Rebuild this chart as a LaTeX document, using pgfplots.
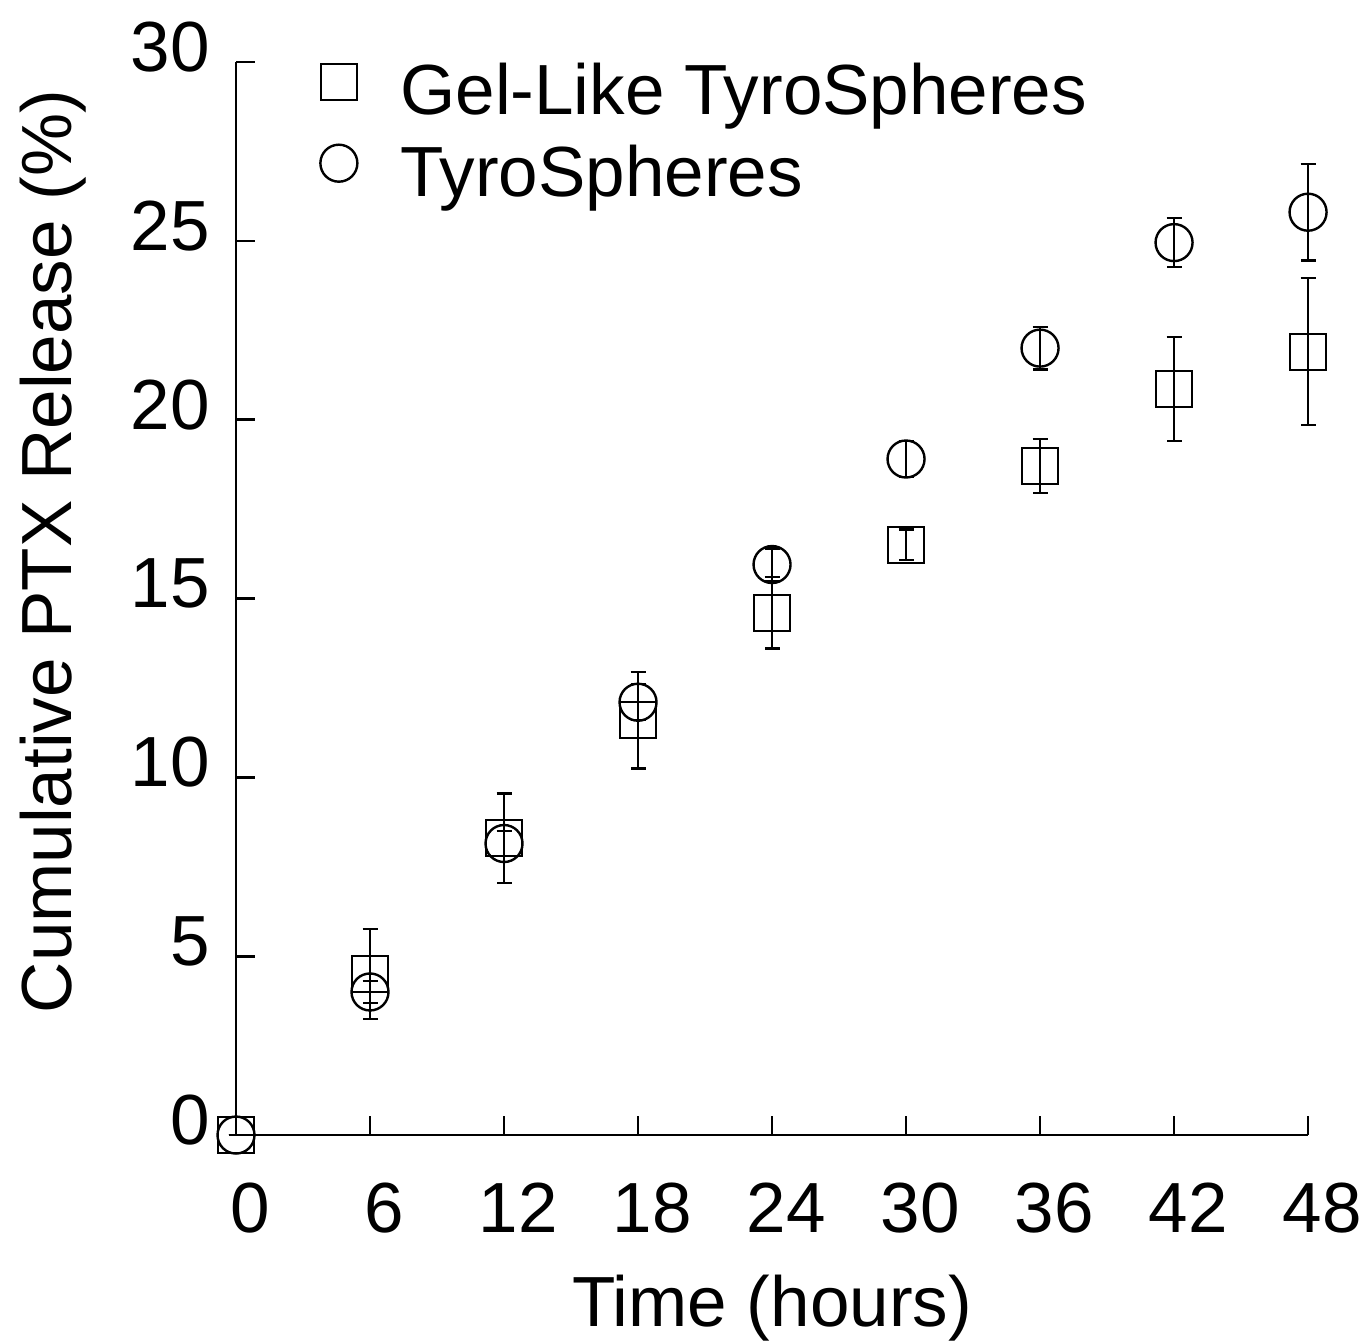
\documentclass[border=0pt]{standalone}
\usepackage{fontspec}
\setmainfont{Liberation Sans}
\usepackage{pgfplots}
\pgfplotsset{compat=1.18}
\begin{document}
\begin{tikzpicture}
\begin{axis}[
  scale only axis,
  width=536pt, height=536.5pt,
  xmin=0, xmax=48, ymin=0, ymax=30,
  clip=false,
  axis x line=bottom, axis y line=left,
  axis line style={-, line width=1.4pt},
  xtick={0,6,...,48}, ytick={0,5,...,30},
  tick align=inside,
  major tick length=9.5pt,
  tick style={line width=1.3pt, black},
  /pgf/number format/assume math mode=true,
  tick label style={font=\fontsize{35.5}{42}\selectfont},
  xticklabel style={xshift=7pt, yshift=-20.5pt},
  yticklabel style={xshift=-9.5pt, yshift=7.5pt},
  xlabel={Time (hours)},
  ylabel={Cumulative PTX Release (\%)},
  label style={font=\fontsize{35.5}{42}\selectfont},
  xlabel style={at={(0.5,0)}, anchor=north, yshift=-66.5pt},
  ylabel style={at={(0,0.5)}, anchor=south, xshift=23.5pt, yshift=71.5pt},
  legend style={at={(axis cs:3.76,30.08)}, anchor=north west, draw=none, fill=none,
    font=\fontsize{35.5}{42}\selectfont, inner sep=0pt, row sep=9.5pt,
    nodes={inner sep=2pt}},
  legend cell align=left,
  legend image code/.code={\draw[#1] plot coordinates {(9pt,4.5pt)}; \path (0pt,0pt) (37.5pt,0pt);},
  error bars/error bar style={line width=1.1pt, black},
  error bars/error mark options={rotate=90, mark size=3.75pt, line width=1.1pt, black},
]
\addplot[only marks, mark=square, mark size=9pt, mark options={line width=1.2pt, black, fill=white},
  error bars/.cd, y dir=both, y explicit]
  table[x=t, y=v, y error=e] {
t  v     e
0  0     0
6  4.5   1.25
12 8.3   1.25
18 11.6  1.35
24 14.6  1.0
30 16.5  0.43
36 18.7  0.75
42 20.85 1.45
48 21.9  2.05
};
\addlegendentry{Gel-Like TyroSpheres}
\addplot[only marks, mark=o, mark size=9.25pt, mark options={line width=1.2pt, black},
  error bars/.cd, y dir=both, y explicit]
  table[x=t, y=v, y error=e] {
t  v     e
0  0     0
6  4.0   0.3
12 8.15  0.35
18 12.1  0.5
24 15.95 0.45
30 18.9  0.5
36 22.0  0.6
42 24.95 0.68
48 25.8  1.35
};
\addlegendentry{TyroSpheres}
\coordinate (bl) at (axis cs:-10.567,-5.788);
\coordinate (tr) at (axis cs:50.46,31.733);
\end{axis}
\pgfresetboundingbox
\path[use as bounding box] (bl) rectangle (tr);
\end{tikzpicture}
\end{document}
